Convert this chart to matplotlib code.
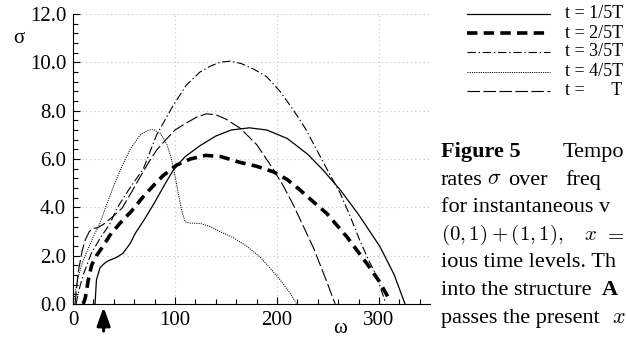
import matplotlib
matplotlib.use("Agg")
import matplotlib.pyplot as plt
from matplotlib.lines import Line2D
from matplotlib.ticker import MultipleLocator, FormatStrFormatter

plt.rcParams["font.family"] = ["Liberation Serif", "DejaVu Serif"]
plt.rcParams["mathtext.fontset"] = "cm"
plt.rcParams["lines.scale_dashes"] = False

# growth rate sigma over frequency omega
w_1 = [21.6, 23, 26.5, 30, 33, 38, 42.8, 49, 56, 61, 70, 80, 90, 98.3, 110,
       124.5, 140, 155, 173, 190, 210, 230, 245, 262, 280, 301, 315, 325.5]
s_1 = [0.0, 1.0, 1.5, 1.65, 1.75, 1.85, 1.93, 2.1, 2.5, 2.92, 3.5, 4.2, 4.95,
       5.54, 6.1, 6.55, 6.95, 7.2, 7.29, 7.2, 6.85, 6.2, 5.55, 4.72, 3.7,
       2.37, 1.2, 0.0]

w_2 = [10, 12, 15, 18.3, 23, 28, 36.3, 46, 57.5, 69, 80, 88, 101.6, 115, 130,
       145, 163.7, 180, 196.4, 210, 222.5, 235, 248.7, 268.3, 288, 300, 310]
s_2 = [0.0, 0.24, 1.0, 1.61, 2.0, 2.3, 2.85, 3.34, 3.85, 4.45, 4.95, 5.3,
       5.75, 6.0, 6.15, 6.1, 5.86, 5.7, 5.47, 5.15, 4.72, 4.25, 3.75, 2.79,
       1.68, 0.95, 0.2]

w_3 = [3, 6, 10, 18, 27, 36, 43, 55, 69, 82, 98, 111, 124.5, 135, 144, 154,
       165, 178, 190, 203, 216, 228, 239, 250, 262, 272, 281, 290, 298, 306]
s_3 = [0.0, 0.6, 1.2, 2.1, 2.75, 3.3, 3.96, 4.75, 5.6, 7.0, 8.2, 9.05, 9.6,
       9.85, 10.0, 10.05, 9.95, 9.7, 9.4, 8.8, 8.03, 7.25, 6.37, 5.5, 4.58,
       3.6, 2.65, 1.8, 1.13, 0.1]

w_4 = [1, 5, 9, 15, 20, 26, 32, 40, 48, 56, 66, 74, 79, 86, 92, 96, 100, 104,
       107, 110, 115, 125, 135, 144, 157, 170, 183, 193, 203, 212, 219]
s_4 = [0.2, 1.1, 1.7, 2.3, 2.8, 3.3, 4.0, 4.9, 5.7, 6.4, 7.0, 7.2, 7.22, 7.05,
       6.6, 6.1, 5.3, 4.4, 3.8, 3.4, 3.35, 3.33, 3.2, 3.0, 2.75, 2.4, 1.96,
       1.5, 1.0, 0.5, 0.03]

w_5 = [2, 5, 9, 12, 16, 20, 24, 30, 40, 48, 57, 66, 74, 82, 90, 100, 111.5,
       122, 131, 140, 150, 164, 180, 196, 206, 216, 226, 236, 249, 257]
s_5 = [0.0, 1.3, 2.2, 2.65, 3.0, 3.13, 3.15, 3.3, 3.65, 3.96, 4.6, 5.27, 5.85,
       6.37, 6.75, 7.2, 7.5, 7.75, 7.87, 7.83, 7.65, 7.27, 6.6, 5.6, 4.9,
       4.1, 3.2, 2.3, 0.9, 0.0]

labels = ["t = 1/5T", "t = 2/5T", "t = 3/5T", "t = 4/5T", "t =      T"]
series = [(w_1, s_1), (w_2, s_2), (w_3, s_3), (w_4, s_4), (w_5, s_5)]
styles = [
    dict(lw=0.9, ls="-"),
    dict(lw=2.6, ls=(0, (7.5, 4.5))),
    dict(lw=0.8, ls=(0, (6, 2, 1, 2))),
    dict(lw=0.7, ls=(0, (0.8, 0.8))),
    dict(lw=0.8, ls=(0, (9, 2.5))),
]

W, H = 626, 340
fig = plt.figure(figsize=(W / 100, H / 100), dpi=100)
ax = fig.add_axes([73 / W, 1 - 304 / H, (430 - 73) / W, (304 - 14) / H])

for (x, y), st in zip(series, styles):
    ax.plot(x, y, color="black", **st)

ax.set_xlim(0, 350)
ax.set_ylim(0, 12)
ax.xaxis.set_major_locator(MultipleLocator(100))
ax.xaxis.set_minor_locator(MultipleLocator(20))
ax.yaxis.set_major_locator(MultipleLocator(2))
ax.yaxis.set_minor_locator(MultipleLocator(0.4))
ax.yaxis.set_major_formatter(FormatStrFormatter("%.1f"))
ax.tick_params(which="both", direction="in", width=0.8, labelsize=15)
ax.tick_params(which="major", length=5)
ax.tick_params(which="minor", length=3.5)
ax.tick_params(axis="x", pad=5)
ax.tick_params(axis="y", pad=5)
ax.spines["top"].set_visible(False)
ax.spines["right"].set_visible(False)
ax.grid(True, which="major", color="#cfcfcf", ls=(0, (1, 2)), lw=0.8)
ax.set_axisbelow(True)

ax.text(340 / W, 1 - 333 / H, "ω", transform=fig.transFigure, fontsize=15,
        ha="center", va="baseline")
ax.text(19 / W, 1 - 43 / H, "σ", transform=fig.transFigure, fontsize=15,
        ha="center", va="baseline")

# arrow under the axis at omega = 30
ax.annotate("", xy=(30, -0.13), xytext=(30, -1.12),
            arrowprops=dict(arrowstyle="-|>,head_length=0.55,head_width=0.2",
                            lw=2.2, color="black", shrinkA=0, shrinkB=0,
                            mutation_scale=20),
            annotation_clip=False)

# legend at upper right
rows_y = [14, 33, 52, 72, 91]
for yy, lab, st in zip(rows_y, labels, styles):
    fig.add_artist(Line2D([467 / W, 550 / W], [1 - yy / H, 1 - yy / H],
                          transform=fig.transFigure, color="black", **st))
    fig.text(565 / W, 1 - yy / H, lab, fontsize=13, va="center", ha="left")

# caption beside the chart (cropped at the right edge, as in the source page)
caption = [
    [(441, "Figure 5", "bold", 16), (563, "Tempo", "normal", 16)],
    [(441, "rates", "normal", 16), (487, r"$\sigma$", "normal", 16),
     (508, "over", "normal", 16), (565, "freq", "normal", 16)],
    [(441, "for instantaneous v", "normal", 16)],
    [(441, r"$(0,1)+(1,1),$", "normal", 15), (584, r"$x$", "normal", 15),
     (604, r"$=$", "normal", 15)],
    [(441, "ious time levels. Th", "normal", 16)],
    [(441, "into the structure", "normal", 16), (602, "A", "bold", 16)],
    [(441, "passes the present", "normal", 16), (612, r"$x$", "normal", 16)],
]
for i, line in enumerate(caption):
    yb = 157 + 27.6 * i
    for xx, txt, wt, fs in line:
        fig.text(xx / W, 1 - yb / H, txt, fontsize=fs, fontweight=wt,
                 ha="left", va="baseline")

fig.savefig("out.png", dpi=100)
